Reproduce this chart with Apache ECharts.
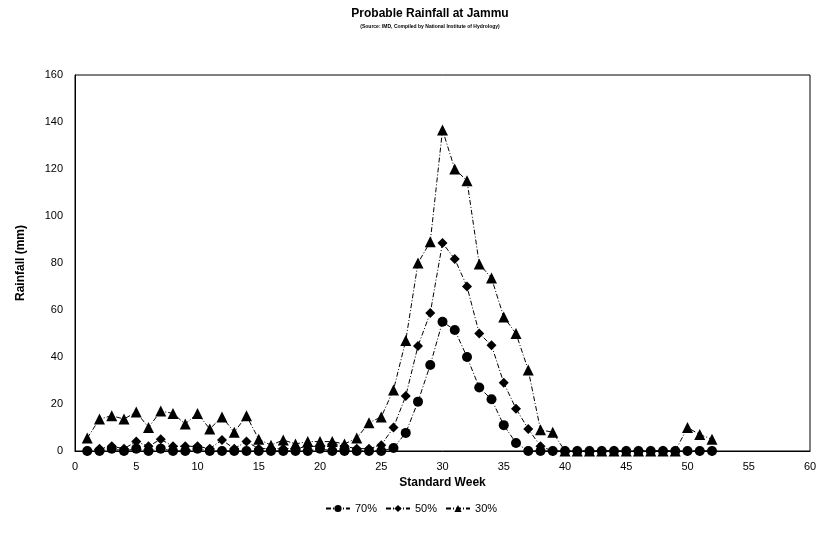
<!DOCTYPE html>
<html>
<head>
<meta charset="utf-8">
<script src="https://cdn.jsdelivr.net/npm/echarts@6/dist/echarts.min.js"></script>
<style>html,body{margin:0;padding:0;background:#fff}#c{width:822px;height:546px}</style>
</head>
<body>
<div id="c"></div>
<script>
const weeks = [1,2,3,4,5,6,7,8,9,10,11,12,13,14,15,16,17,18,19,20,21,22,23,24,25,26,27,28,29,30,31,32,33,34,35,36,37,38,39,40,41,42,43,44,45,46,47,48,49,50,51,52];
const p70 = [0,0,1,0,1,0,1,0,0,1,0,0,0,0,0,0,0,0,0,1,0,0,0,0,0,1.3,7.7,21,36.6,55,51.5,40,27,22,11,3.4,0,0,0,0,0,0,0,0,0,0,0,0,0,0,0,0];
const p50 = [0,1,2,1,4,2,5,2,2,2,1,4.7,1,4,1,1,1,1,2,2,3,2,1,1,2.5,10,23.4,44.7,58.7,88.5,81.7,70,50,45,29,18,9.4,2,0,0,0,0,0,0,0,0,0,0,0,0,0,0];
const p30 = [5.5,13.6,15,13.6,16.6,10,17,16,11.5,16,9.4,14.5,8,15,5,2.5,4.7,3,4,4,4,3,5.5,12,14.5,26,47,80,89,136.6,120,115,79.6,73.6,57,50,34.5,9,8,0,0,0,0,0,0,0,0,0,0,10,7,5];
const xTicks = [0,5,10,15,20,25,30,35,40,45,50,55,60];
const yTicks = [0,20,40,60,80,100,120,140,160];

const pair = arr => weeks.map((w,i)=>[w, arr[i]]);
const font = 'Liberation Sans, Arial, sans-serif';
const mk = (name, arr, sym, size) => ({
  name, type:'line', data: pair(arr), symbol: sym, symbolSize: size,
  itemStyle:{color:'#000'}, lineStyle:{color:'#000', width:1, type:[5,2,1,2]},
  animation:false
});
const chart = echarts.init(document.getElementById('c'), null, {renderer:'canvas'});
chart.setOption({
  backgroundColor:'#fff',
  animation:false,
  title:{
    text:'Probable Rainfall at Jammu',
    subtext:'(Source: IMD, Compiled by National Institute of Hydrology)',
    left:425, top:3, textAlign:'center', itemGap:4,
    textStyle:{fontFamily:font, fontSize:12, fontWeight:'bold', color:'#000'},
    subtextStyle:{fontFamily:font, fontSize:5, fontWeight:'bold', color:'#000'}
  },
  legend:{
    bottom:27, left:'center', itemWidth:24, itemHeight:9, itemGap:8,
    textStyle:{fontFamily:font, fontSize:11, color:'#000'},
    data:['70%','50%','30%']
  },
  grid:{left:75, right:12, top:75, bottom:95, show:true, borderColor:'#000', borderWidth:1},
  xAxis:{
    type:'value', min:0, max:60, interval:5,
    name:'Standard Week', nameLocation:'middle', nameGap:25,
    nameTextStyle:{fontFamily:font, fontSize:12, fontWeight:'bold', color:'#000'},
    axisLine:{lineStyle:{color:'#000'}}, axisTick:{show:false},
    axisLabel:{fontFamily:font, fontSize:11, color:'#000', margin:10},
    splitLine:{show:false}
  },
  yAxis:{
    type:'value', min:0, max:160, interval:20,
    name:'Rainfall (mm)', nameLocation:'middle', nameGap:48, nameRotate:90,
    nameTextStyle:{fontFamily:font, fontSize:12, fontWeight:'bold', color:'#000'},
    axisLine:{show:true, lineStyle:{color:'#000'}}, axisTick:{show:false},
    axisLabel:{fontFamily:font, fontSize:11, color:'#000', margin:12},
    splitLine:{show:false}
  },
  series:[
    mk('70%', p70, 'circle', 10),
    mk('50%', p50, 'diamond', 10),
    mk('30%', p30, 'triangle', 11)
  ]
});
</script>
</body>
</html>
